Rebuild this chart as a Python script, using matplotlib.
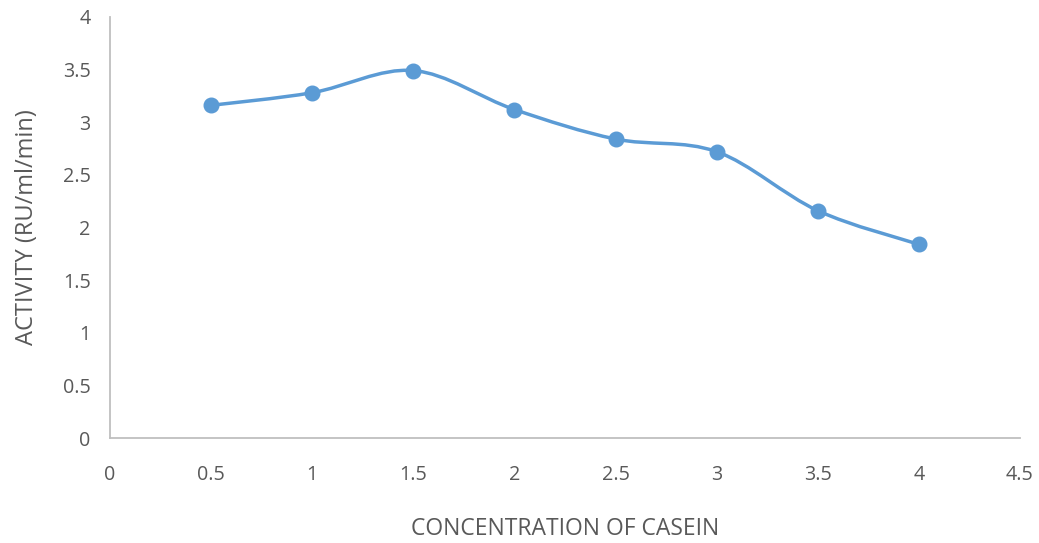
import matplotlib
matplotlib.use("Agg")
import matplotlib.pyplot as plt
from matplotlib.path import Path
from matplotlib.patches import PathPatch

casein = [0.5, 1, 1.5, 2, 2.5, 3, 3.5, 4]
activity = [3.16, 3.28, 3.49, 3.12, 2.84, 2.72, 2.16, 1.84]
xticks = [0, 0.5, 1, 1.5, 2, 2.5, 3, 3.5, 4, 4.5]
yticks = [0, 0.5, 1, 1.5, 2, 2.5, 3, 3.5, 4]

blue = "#5b9bd5"
grey = "#595959"
plt.rcParams['font.family'] = ['Open Sans', 'DejaVu Sans']


def smooth_path(xs, ys):
    # excel style smoothed line: cubic bezier through the points
    verts = [(xs[0], ys[0])]
    codes = [Path.MOVETO]
    n = len(xs)
    for i in range(n - 1):
        x0, y0 = (xs[i - 1], ys[i - 1]) if i > 0 else (xs[i], ys[i])
        x1, y1 = xs[i], ys[i]
        x2, y2 = xs[i + 1], ys[i + 1]
        x3, y3 = (xs[i + 2], ys[i + 2]) if i + 2 < n else (x2, y2)
        c1 = (x1 + (x2 - x0) / 6, y1 + (y2 - y0) / 6)
        c2 = (x2 - (x3 - x1) / 6, y2 - (y3 - y1) / 6)
        verts += [c1, c2, (x2, y2)]
        codes += [Path.CURVE4] * 3
    return Path(verts, codes)


fig = plt.figure(figsize=(10.39, 5.43), dpi=100)
ax = fig.add_axes([0.1059, 0.193, 0.8758, 0.776])

ax.add_patch(PathPatch(smooth_path(casein, activity), facecolor="none",
                       edgecolor=blue, lw=2.5, capstyle="round"))
ax.plot(casein, activity, "o", color=blue, markersize=10.5, zorder=3)

ax.set_xlim(0, 4.5)
ax.set_ylim(0, 4)
ax.set_xticks(xticks)
ax.set_xticklabels([f"{t:g}" for t in xticks])
ax.set_yticks(yticks)
ax.set_yticklabels([f"{t:g}" for t in yticks])
ax.tick_params(length=0, labelsize=14.2, colors=grey, pad=14)
ax.tick_params(axis="x", pad=19)
for s in ["top", "right"]:
    ax.spines[s].set_visible(False)
for s in ["left", "bottom"]:
    ax.spines[s].set_color("#bfbfbf")
    ax.spines[s].set_linewidth(1.3)

ax.set_xlabel("CONCENTRATION OF CASEIN", fontsize=16.5, color=grey, labelpad=23)
ax.set_ylabel("ACTIVITY (RU/ml/min)", fontsize=17, color=grey, labelpad=17)

fig.savefig("out.png", dpi=100)
